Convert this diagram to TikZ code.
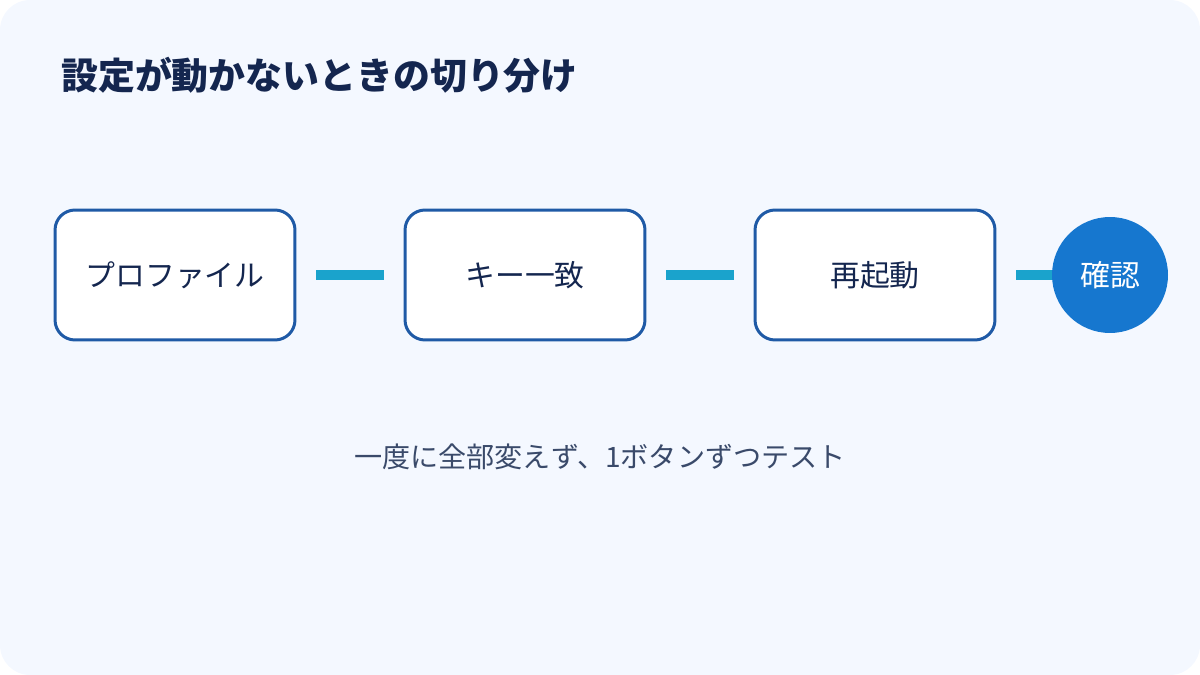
\documentclass[tikz,border=0pt]{standalone}
\usepackage{fontspec}
\setmainfont{Noto Sans CJK JP}
\definecolor{bgpanel}{HTML}{F4F8FF}
\definecolor{navy}{HTML}{14264F}
\definecolor{frame}{HTML}{1F5AA6}
\definecolor{link}{HTML}{1AA3CC}
\definecolor{okblue}{HTML}{1677CF}
\definecolor{note}{HTML}{3A4A6A}
\tikzset{
  stage/.style={draw=frame,line width=1.7pt,fill=white,rounded corners=0.4cm,minimum width=4.8cm,minimum height=2.6cm,text=navy,font=\fontsize{17}{20}\selectfont},
  wire/.style={draw=link,line width=0.2cm,shorten <=0.4cm,shorten >=0.4cm},
}
\begin{document}
\begin{tikzpicture}[x=0.02cm,y=-0.02cm]
  \fill[bgpanel,rounded corners=0.6cm] (0,0) rectangle (1200,675);
  \useasboundingbox (0,0) rectangle (1200,675);
  \node[anchor=west,text=navy,font=\bfseries\fontsize{21}{24}\selectfont] (title) at (55,75) {設定が動かないときの切り分け};
  \node[stage] (prof) at (175,275) {プロファイル};
  \node[stage] (key) at (525,275) {キー一致};
  \node[stage] (boot) at (875,275) {再起動};
  \draw[wire] (prof) -- (key);
  \draw[wire] (key) -- (boot);
  \draw[wire,shorten >=0cm] (boot) -- (1110,275);
  \node[circle,fill=okblue,minimum size=2.32cm,text=white,font=\fontsize{17}{20}\selectfont] (check) at (1110,275) {確認};
  \node[text=note,font=\fontsize{16}{19}\selectfont] (tip) at (600,457) {一度に全部変えず、1ボタンずつテスト};
\end{tikzpicture}
\end{document}
